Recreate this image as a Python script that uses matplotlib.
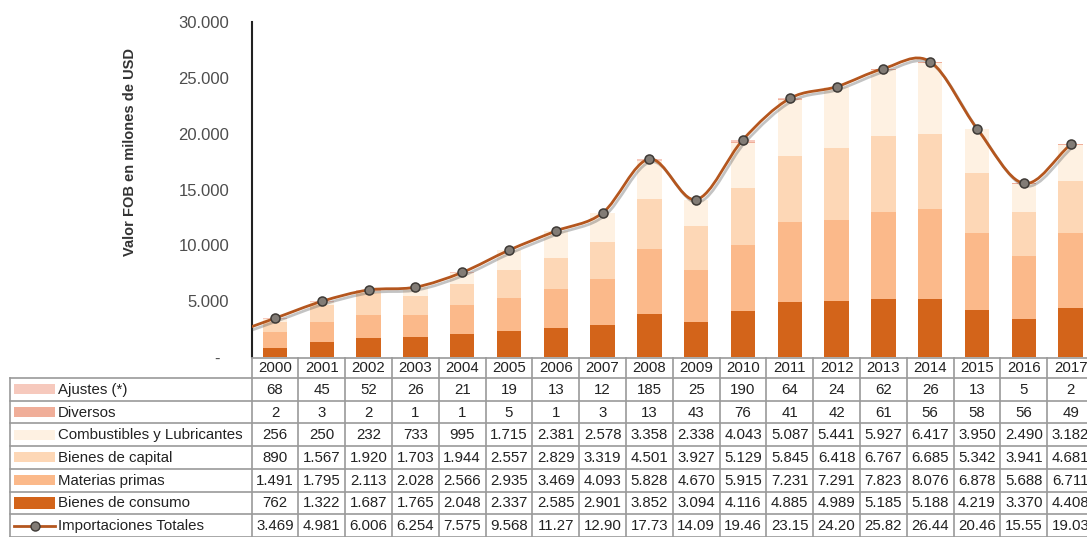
import numpy as np
import matplotlib.pyplot as plt
import matplotlib.patheffects as pe
from matplotlib.path import Path
from matplotlib.patches import PathPatch, Rectangle
from matplotlib.lines import Line2D
from matplotlib.ticker import FuncFormatter

plt.rcParams['font.family'] = ['Liberation Sans', 'DejaVu Sans']

# Importaciones por uso o destino económico (millones USD FOB)
years = [str(y) for y in range(2000, 2018)]
ajustes = [68, 45, 52, 26, 21, 19, 13, 12, 185, 25, 190, 64, 24, 62, 26, 13, 5, 2]
diversos = [2, 3, 2, 1, 1, 5, 1, 3, 13, 43, 76, 41, 42, 61, 56, 58, 56, 49]
combustibles = [256, 250, 232, 733, 995, 1715, 2381, 2578, 3358, 2338, 4043, 5087,
                5441, 5927, 6417, 3950, 2490, 3182]
capital = [890, 1567, 1920, 1703, 1944, 2557, 2829, 3319, 4501, 3927, 5129, 5845,
           6418, 6767, 6685, 5342, 3941, 4681]
materias = [1491, 1795, 2113, 2028, 2566, 2935, 3469, 4093, 5828, 4670, 5915, 7231,
            7291, 7823, 8076, 6878, 5688, 6711]
consumo = [762, 1322, 1687, 1765, 2048, 2337, 2585, 2901, 3852, 3094, 4116, 4885,
           4989, 5185, 5188, 4219, 3370, 4408]
totales = [3469, 4981, 6006, 6254, 7575, 9568, 11278, 12906, 17737, 14097, 19469, 23153,
           24205, 25825, 26448, 20460, 15550, 19033]

labels = ['Ajustes (*)', 'Diversos', 'Combustibles y Lubricantes', 'Bienes de capital',
          'Materias primas', 'Bienes de consumo', 'Importaciones Totales']
colors = ['#F6C9BD', '#F0AE99', '#FEF1E2', '#FDD7B6', '#FBB98A', '#D3641A']
line_color = '#B4561E'

series_top_down = [ajustes, diversos, combustibles, capital, materias, consumo]

# layout in pixels of the 1087x537 picture
W, H = 1087, 537
COL = 46.8          # px per year column
X0 = 251.6          # px of left edge of first column
Y_TOP, Y_BOT = 22, 357

fig = plt.figure(figsize=(W / 100, H / 100), dpi=100)
xmax = (W - X0) / COL - 0.5
ax = fig.add_axes([X0 / W, 1 - Y_BOT / H, 1 - X0 / W, (Y_BOT - Y_TOP) / H])
ax.set_xlim(-0.5, xmax)
ax.set_ylim(0, 30000)

x = np.arange(len(years))
bottom = np.zeros(len(years))
for vals, col in zip(series_top_down[::-1], colors[::-1]):
    ax.bar(x, vals, width=0.52, bottom=bottom, color=col, edgecolor='none', zorder=2)
    bottom += np.array(vals)

# smoothed line (Catmull-Rom as cubic Bezier in data coords)
P = np.column_stack([x, totales]).astype(float)
ext = np.vstack([2 * P[0] - P[1], P, 2 * P[-1] - P[-2]])
verts = [tuple(ext[0]), tuple(P[0])]
codes = [Path.MOVETO, Path.LINETO]
for i in range(1, len(ext) - 2):
    c1 = ext[i] + (ext[i + 1] - ext[i - 1]) / 6
    c2 = ext[i + 1] - (ext[i + 2] - ext[i]) / 6
    verts += [tuple(c1), tuple(c2), tuple(ext[i + 1])]
    codes += [Path.CURVE4] * 3
curve = PathPatch(Path(verts, codes), facecolor='none', edgecolor=line_color, lw=2,
                  zorder=3, capstyle='round',
                  path_effects=[pe.SimpleLineShadow(offset=(1.5, -2), shadow_color='#3a3a3a', alpha=0.3),
                                pe.Normal()])
ax.add_patch(curve)
ax.plot(x, totales, ls='none', marker='o', ms=6.5, mfc='#827c76', mec='#3e3a36', mew=1.1, zorder=4)

for s in ['top', 'right', 'bottom']:
    ax.spines[s].set_visible(False)
ax.spines['left'].set_color('#222222')
ax.spines['left'].set_linewidth(1.5)
ax.set_xticks([])
ax.set_yticks(np.arange(0, 30001, 5000))
ax.yaxis.set_major_formatter(FuncFormatter(lambda v, p: '-  ' if v == 0 else f'{v:,.0f}'.replace(',', '.')))
ax.tick_params(axis='y', length=0, pad=16, labelsize=12, labelcolor='#4d4d4d')
fig.text(130 / W, 1 - 152 / H, 'Valor FOB en milones de USD', rotation=90, ha='center', va='center',
         fontsize=10.5, fontweight='bold', color='#333333')

# data table underneath
tax = fig.add_axes([0, 0, 1, 1 - Y_BOT / H])
tax.set_xlim(-0.5 - X0 / COL, xmax)
tax.set_ylim(H, Y_BOT)
tax.axis('off')

def px2x(px):
    return -0.5 - (X0 - px) / COL

grid = '#9a9a9a'
hdr_bot = 378
row_h = 22.7
edges = [hdr_bot + k * row_h for k in range(8)]
left = px2x(10)
tax.plot([-0.5, xmax], [Y_BOT + 1, Y_BOT + 1], color=grid, lw=1.2, clip_on=False)
for e in edges:
    tax.plot([left, xmax], [e, e], color=grid, lw=1.2, clip_on=False)
tax.plot([left, left], [hdr_bot, H], color=grid, lw=1.2)
for i in range(len(years) + 1):
    tax.plot([i - 0.5, i - 0.5], [Y_BOT + 1, H], color=grid, lw=1.2)

fs = 10.8
for i, yr in enumerate(years):
    tax.text(i, (Y_BOT + hdr_bot) / 2 + 1, yr, ha='center', va='center', fontsize=fs, color='#222222')

def fmt(v):
    return f'{int(v):,}'.replace(',', '.')

rows = series_top_down + [totales]
for r, (lab, vals) in enumerate(zip(labels, rows)):
    yc = edges[r] + row_h / 2
    tax.text(px2x(58), yc + 0.5, lab, ha='left', va='center', fontsize=fs, color='#222222')
    if r < 6:
        hgt = 12 if r == 5 else 10
        tax.add_patch(Rectangle((px2x(14), yc - hgt / 2), px2x(55) - px2x(14), hgt,
                                facecolor=colors[r], edgecolor='none'))
    else:
        tax.add_line(Line2D([px2x(14), px2x(55)], [yc, yc], color=line_color, lw=2))
        tax.plot([px2x(34.5)], [yc], marker='o', ms=6.5, mfc='#827c76', mec='#3e3a36', mew=1)
    for i, v in enumerate(vals):
        s = fmt(v)
        if r == 6:
            s = s[:5]
        tax.text(i, yc + 0.5, s, ha='center', va='center', fontsize=fs, color='#222222')

fig.savefig('out.png', dpi=100)
